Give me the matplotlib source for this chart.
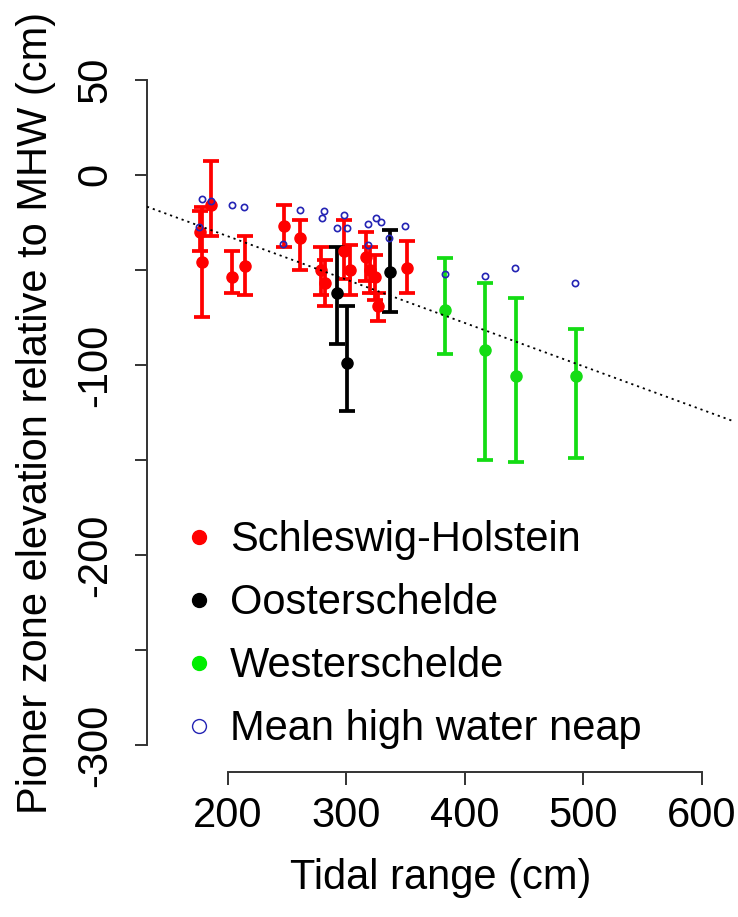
import matplotlib
matplotlib.use('Agg')
import matplotlib.pyplot as plt
from matplotlib.lines import Line2D
import numpy as np

# Schleswig-Holstein: tidal range, mean pioneer zone elevation, bar ends
sh_x = [176.5, 178, 186, 204, 215, 247.5, 261, 279, 282, 298, 303, 317, 320, 324, 327, 351]
sh_y = [-30, -46, -16, -54, -48, -27, -33, -50, -57, -40, -50, -43, -50, -54, -69, -49]
sh_lo = [-40, -75, -32, -62, -63, -38, -50, -63, -69, -55, -63, -56, -62, -66, -77, -62]
sh_hi = [-19, -17, 7, -40, -32, -16, -24, -38, -45, -24, -37, -30, -38, -42, -62, -35]

# Oosterschelde
os_x = [292.5, 301, 337]
os_y = [-62, -99, -51]
os_lo = [-89, -124, -72]
os_hi = [-38, -69, -29]

# Westerschelde
ws_x = [383, 417.5, 443.5, 494]
ws_y = [-71, -92, -106, -106]
ws_lo = [-94, -150, -151, -149]
ws_hi = [-44, -57, -65, -81]

# mean high water neap
mhwn_x = [176, 178, 186, 204, 214, 246.5, 261, 280, 281.5, 292, 298, 300.5,
          318.5, 318, 325, 329, 336.5, 350, 383, 417, 442, 493]
mhwn_y = [-27.5, -13, -14, -16, -17, -36.5, -18.5, -23, -19, -28, -21, -28,
          -26, -37, -23, -25, -33, -27, -52, -53, -49, -57]

# fitted line
fit_intercept = 13.3
fit_slope = -0.228

xticks = [200, 300, 400, 500, 600]
yticks = [-300, -250, -200, -150, -100, -50, 0, 50]
ytick_labels = ['-300', '', '-200', '', '-100', '', '0', '50']

plt.rcParams['font.family'] = ['Liberation Sans', 'DejaVu Sans']
plt.rcParams['font.size'] = 30

RED = '#ff0000'
BLACK = '#000000'
GREEN = '#14dc14'
BLUE = '#2424b4'

fig = plt.figure(figsize=(7.38, 9.17), dpi=100)
ax = fig.add_axes([147 / 738, 1 - 772 / 917, 588 / 738, 719 / 917])

groups = [
    (sh_x, sh_y, sh_lo, sh_hi, RED),
    (os_x, os_y, os_lo, os_hi, BLACK),
    (ws_x, ws_y, ws_lo, ws_hi, GREEN),
]
for gx, gy, glo, ghi, col in groups:
    gy = np.array(gy, dtype=float)
    yerr = [gy - np.array(glo), np.array(ghi) - gy]
    ax.errorbar(gx, gy, yerr=yerr, fmt='o', color=col, ms=8, lw=2.7,
                capsize=6, capthick=2.7, zorder=2)

ax.plot(mhwn_x, mhwn_y, 'o', mfc='none', mec=BLUE, ms=4.5, mew=1.2, zorder=3)

ax.axline((0, fit_intercept), slope=fit_slope, color='black', ls=(0, (1.2, 2.2)),
          lw=1.3, zorder=4)

ax.set_xlim(132, 628)
ax.set_ylim(-314, 64)

for s in ['top', 'right']:
    ax.spines[s].set_visible(False)
ax.spines['left'].set_bounds(-300, 50)
ax.spines['bottom'].set_bounds(200, 600)
for s in ['left', 'bottom']:
    ax.spines[s].set_linewidth(1.4)
    ax.spines[s].set_color('#333333')

ax.set_xticks(xticks)
ax.set_xticklabels([str(t) for t in xticks])
ax.set_yticks(yticks)
ax.set_yticklabels(ytick_labels, rotation=90, va='center')
ax.tick_params(length=9, width=1.4, color='#333333', labelsize=30)
ax.tick_params(axis='x', pad=8)
ax.tick_params(axis='y', pad=14)

ax.set_xlabel('Tidal range (cm)', fontsize=30, labelpad=16)
ax.set_ylabel('Pioner zone elevation relative to MHW (cm)', fontsize=30, labelpad=14)

handles = [
    Line2D([], [], ls='none', marker='o', color=RED, ms=10),
    Line2D([], [], ls='none', marker='o', color=BLACK, ms=10),
    Line2D([], [], ls='none', marker='o', color='#00ee00', ms=10),
    Line2D([], [], ls='none', marker='o', mfc='none', mec=BLUE, ms=10, mew=1),
]
labels = ['Schleswig-Holstein', 'Oosterschelde', 'Westerschelde', 'Mean high water neap']
ax.legend(handles, labels, loc='upper left', bbox_to_anchor=(0.06, 0.35),
          frameon=False, fontsize=30, handlelength=0.8, handletextpad=0.35,
          labelspacing=0.55, borderpad=0, borderaxespad=0)

fig.savefig('out.png', dpi=100)
